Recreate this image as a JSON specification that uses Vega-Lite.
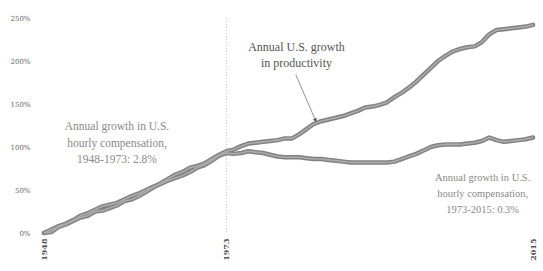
{
  "$schema": "https://vega.github.io/schema/vega-lite/v6.json",
  "width": 489,
  "height": 215,
  "autosize": {"type": "none"},
  "padding": {"left": 44, "top": 18, "right": 10, "bottom": 38},
  "background": "white",
  "config": {"view": {"stroke": null}, "font": "Liberation Serif"},
  "datasets": {
    "series": [
      {"year":1948,"productivity":0,"compensation":0},
      {"year":1949,"productivity":1,"compensation":4},
      {"year":1950,"productivity":7,"compensation":8},
      {"year":1951,"productivity":10,"compensation":11},
      {"year":1952,"productivity":14,"compensation":15},
      {"year":1953,"productivity":18,"compensation":20},
      {"year":1954,"productivity":20,"compensation":23},
      {"year":1955,"productivity":25,"compensation":27},
      {"year":1956,"productivity":26,"compensation":31},
      {"year":1957,"productivity":29,"compensation":33},
      {"year":1958,"productivity":32,"compensation":35},
      {"year":1959,"productivity":37,"compensation":39},
      {"year":1960,"productivity":39,"compensation":43},
      {"year":1961,"productivity":43,"compensation":46},
      {"year":1962,"productivity":48,"compensation":50},
      {"year":1963,"productivity":53,"compensation":54},
      {"year":1964,"productivity":58,"compensation":57},
      {"year":1965,"productivity":63,"compensation":61},
      {"year":1966,"productivity":68,"compensation":64},
      {"year":1967,"productivity":71,"compensation":67},
      {"year":1968,"productivity":76,"compensation":71},
      {"year":1969,"productivity":78,"compensation":76},
      {"year":1970,"productivity":81,"compensation":79},
      {"year":1971,"productivity":86,"compensation":84},
      {"year":1972,"productivity":91,"compensation":90},
      {"year":1973,"productivity":95,"compensation":93},
      {"year":1974,"productivity":97,"compensation":92},
      {"year":1975,"productivity":101,"compensation":93},
      {"year":1976,"productivity":104,"compensation":95},
      {"year":1977,"productivity":105,"compensation":94},
      {"year":1978,"productivity":106,"compensation":93},
      {"year":1979,"productivity":107,"compensation":91},
      {"year":1980,"productivity":108,"compensation":89},
      {"year":1981,"productivity":110,"compensation":88},
      {"year":1982,"productivity":110,"compensation":88},
      {"year":1983,"productivity":115,"compensation":88},
      {"year":1984,"productivity":121,"compensation":87},
      {"year":1985,"productivity":127,"compensation":86},
      {"year":1986,"productivity":130,"compensation":86},
      {"year":1987,"productivity":132,"compensation":85},
      {"year":1988,"productivity":134,"compensation":84},
      {"year":1989,"productivity":136,"compensation":83},
      {"year":1990,"productivity":139,"compensation":82},
      {"year":1991,"productivity":142,"compensation":82},
      {"year":1992,"productivity":146,"compensation":82},
      {"year":1993,"productivity":147,"compensation":82},
      {"year":1994,"productivity":149,"compensation":82},
      {"year":1995,"productivity":152,"compensation":82},
      {"year":1996,"productivity":158,"compensation":83},
      {"year":1997,"productivity":163,"compensation":86},
      {"year":1998,"productivity":169,"compensation":89},
      {"year":1999,"productivity":176,"compensation":92},
      {"year":2000,"productivity":184,"compensation":96},
      {"year":2001,"productivity":192,"compensation":100},
      {"year":2002,"productivity":200,"compensation":102},
      {"year":2003,"productivity":206,"compensation":103},
      {"year":2004,"productivity":211,"compensation":103},
      {"year":2005,"productivity":214,"compensation":103},
      {"year":2006,"productivity":216,"compensation":104},
      {"year":2007,"productivity":217,"compensation":105},
      {"year":2008,"productivity":222,"compensation":107},
      {"year":2009,"productivity":231,"compensation":111},
      {"year":2010,"productivity":236,"compensation":108},
      {"year":2011,"productivity":237,"compensation":106},
      {"year":2012,"productivity":238,"compensation":107},
      {"year":2013,"productivity":239,"compensation":108},
      {"year":2014,"productivity":240,"compensation":109},
      {"year":2015,"productivity":242,"compensation":111}
    ],
    "labels": [
      {"year":1982.6,"value":216,"text":"Annual U.S. growth\nin productivity","group":"prod"},
      {"year":1958,"value":123,"text":"Annual growth in U.S.\nhourly compensation,\n1948-1973: 2.8%","group":"early"},
      {"year":2008.1,"value":64,"text":"Annual growth in U.S.\nhourly compensation,\n1973-2015: 0.3%","group":"late"}
    ],
    "arrow": [
      {"x1":1982.5,"y1":184,"x2":1985.2,"y2":131}
    ]
  },
  "layer": [
    {
      "data": {"values": [{"year":1973}]},
      "mark": {"type": "rule", "color": "#c4c4c4", "strokeDash": [1, 2], "strokeWidth": 1},
      "encoding": {"x": {"field": "year", "type": "quantitative"}}
    },
    {
      "data": {"name": "series"},
      "transform": [{"fold": ["productivity", "compensation"], "as": ["series_name", "pct"]}],
      "mark": {"type": "line", "color": "#828282", "strokeWidth": 4.5, "strokeJoin": "round", "strokeCap": "round"},
      "encoding": {
        "x": {"field": "year", "type": "quantitative", "scale": {"domain": [1948, 2015], "nice": false, "zero": false},
          "axis": {"values": [1948, 1973, 2015], "format": "d", "title": null, "domain": false, "ticks": false, "grid": false,
            "labelAngle": -90, "labelAlign": "right", "labelBaseline": "middle", "labelPadding": 5,
            "labelFont": "DejaVu Serif", "labelFontSize": 8, "labelFontWeight": "bold", "labelColor": "#555"}},
        "y": {"field": "pct", "type": "quantitative", "scale": {"domain": [0, 250], "nice": false},
          "axis": {"values": [0, 50, 100, 150, 200, 250], "labelExpr": "datum.value + '%'", "title": null, "domain": false,
            "ticks": false, "tickSize": 0, "grid": false, "labelPadding": 14, "labelFont": "DejaVu Serif", "labelFontSize": 7,
            "labelColor": "#666"}},
        "detail": {"field": "series_name", "type": "nominal"}
      }
    },
    {
      "data": {"name": "series"},
      "transform": [{"fold": ["productivity", "compensation"], "as": ["series_name", "pct"]}],
      "mark": {"type": "line", "color": "#ababab", "strokeWidth": 1.6, "strokeJoin": "round"},
      "encoding": {
        "x": {"field": "year", "type": "quantitative"},
        "y": {"field": "pct", "type": "quantitative"},
        "detail": {"field": "series_name", "type": "nominal"}
      }
    },
    {
      "data": {"name": "arrow"},
      "mark": {"type": "rule", "color": "#777", "strokeWidth": 0.8},
      "encoding": {
        "x": {"field": "x1", "type": "quantitative"},
        "y": {"field": "y1", "type": "quantitative"},
        "x2": {"field": "x2"},
        "y2": {"field": "y2"}
      }
    },
    {
      "data": {"name": "arrow"},
      "mark": {"type": "point", "shape": "triangle-down", "filled": true, "color": "#555", "size": 18, "angle": -22, "opacity": 1},
      "encoding": {
        "x": {"field": "x2", "type": "quantitative"},
        "y": {"field": "y2", "type": "quantitative"}
      }
    },
    {
      "data": {"name": "labels"},
      "transform": [{"filter": "datum.group == 'prod'"}],
      "mark": {"type": "text", "lineBreak": "\n", "font": "Liberation Serif", "fontSize": 12, "color": "#555", "align": "center", "baseline": "middle", "lineHeight": 16},
      "encoding": {
        "x": {"field": "year", "type": "quantitative"},
        "y": {"field": "value", "type": "quantitative"},
        "text": {"field": "text"}
      }
    },
    {
      "data": {"name": "labels"},
      "transform": [{"filter": "datum.group == 'early'"}],
      "mark": {"type": "text", "lineBreak": "\n", "font": "Liberation Serif", "fontSize": 11.5, "color": "#8a8a8a", "align": "center", "baseline": "middle", "lineHeight": 16.5},
      "encoding": {
        "x": {"field": "year", "type": "quantitative"},
        "y": {"field": "value", "type": "quantitative"},
        "text": {"field": "text"}
      }
    },
    {
      "data": {"name": "labels"},
      "transform": [{"filter": "datum.group == 'late'"}],
      "mark": {"type": "text", "lineBreak": "\n", "font": "Liberation Serif", "fontSize": 10.5, "color": "#8a8a8a", "align": "center", "baseline": "middle", "lineHeight": 16},
      "encoding": {
        "x": {"field": "year", "type": "quantitative"},
        "y": {"field": "value", "type": "quantitative"},
        "text": {"field": "text"}
      }
    }
  ]
}
